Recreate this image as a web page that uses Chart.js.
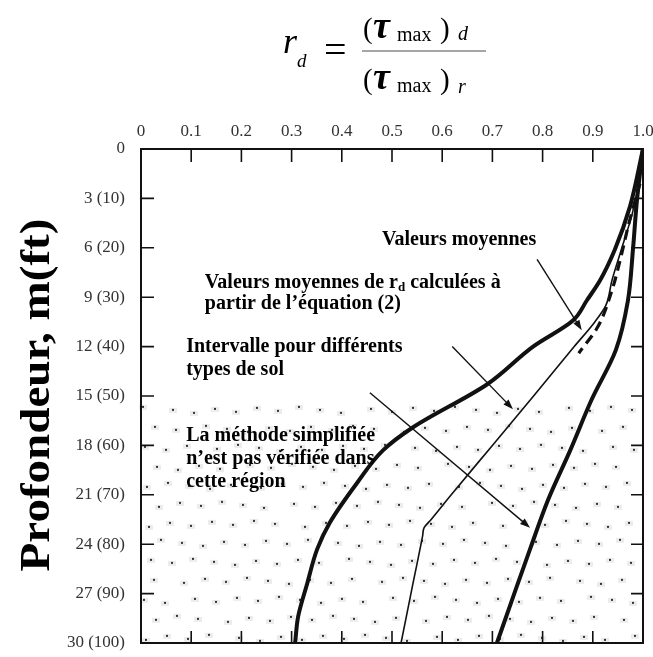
<!DOCTYPE html>
<html>
<head>
<meta charset="UTF-8">
<title>Coefficient rd - profondeur</title>
<script src="https://cdn.jsdelivr.net/npm/chart.js@4.4.1/dist/chart.umd.min.js"></script>
<style>
body{margin:0;background:#fff;}
#wrap{width:653px;height:657px;}
</style>
</head>
<body>
<div id="wrap"><canvas id="myChart" width="653" height="657"></canvas></div>
<script>
// tick labels
var xTickLabels = ['0','0.1','0.2','0.3','0.4','0.5','0.6','0.7','0.8','0.9','1.0'];
var yTickLabels = ['0','3 (10)','6 (20)','9 (30)','12 (40)','15 (50)','18 (60)','21 (70)','24 (80)','27 (90)','30 (100)'];

// borne gauche (intervalle)
var leftDepth = [0, 3.5, 6.1, 8.0, 9.2, 10.4, 12.0, 14.3, 16.9, 18.3, 20.3, 22.7, 24.3, 26.4, 28.4, 30];
var leftRd    = [1.0, 0.974, 0.944, 0.914, 0.888, 0.861, 0.781, 0.689, 0.542, 0.482, 0.430, 0.376, 0.351, 0.331, 0.313, 0.307];
// valeurs moyennes
var meanDepth = [0, 2, 4, 6, 8, 9.5, 10.5, 12, 15, 18, 21, 22.5, 23, 23.5, 26.5, 30];
var meanRd    = [1.0, 0.992, 0.978, 0.958, 0.938, 0.926, 0.904, 0.863, 0.782, 0.700, 0.618, 0.578, 0.564, 0.561, 0.541, 0.518];
// valeurs moyennes equation (2)
var eqDepth = [2.1, 4.5, 6.3, 8.6, 10.8, 12.4];
var eqRd    = [0.994, 0.972, 0.958, 0.938, 0.910, 0.872];
// borne droite (intervalle)
var rightDepth = [0, 3.1, 6.1, 9.2, 12.2, 15.2, 18.3, 21.3, 24.3, 27.4, 30];
var rightRd    = [1.0, 0.988, 0.980, 0.970, 0.946, 0.898, 0.855, 0.811, 0.775, 0.739, 0.709];

// annotations (rd, profondeur)
var arrows = [
	[0.789, 6.7, 0.878, 11.0],
	[0.620, 12.0, 0.741, 15.8],
	[0.456, 14.8, 0.775, 23.0]
];
var notes = [
	{x: 0.480, y: 5.5, t: 'Valeurs moyennes'},
	{x: 0.127, y: 8.1, t: 'Valeurs moyennes de r', sub: 'd', after: ' calculées à'},
	{x: 0.127, y: 9.4, t: 'partir de l\u2019équation (2)'},
	{x: 0.090, y: 12.0, t: 'Intervalle pour différents'},
	{x: 0.090, y: 13.4, t: 'types de sol'},
	{x: 0.090, y: 17.4, t: 'La méthode simplifiée'},
	{x: 0.090, y: 18.8, t: 'n\u2019est pas vérifiée dans'},
	{x: 0.090, y: 20.2, t: 'cette région'}
];
var zoneTop = 15.6; // debut de la zone pointillee

function pts(xs, ys) {
	return xs.map(function(v, i) { return {x: v, y: ys[i]}; });
}

var SERIF = '"Liberation Serif", "DejaVu Serif", serif';

var figure = {
	id: 'figure',
	beforeDatasetsDraw: function(chart) {
		var c = chart.ctx, a = chart.chartArea, ys = chart.scales.y;
		var top = ys.getPixelForValue(zoneTop);
		c.save();
		var row = 0;
		for (var y = top + 4; y < a.bottom - 2; y += 19, row++) {
			var col = 0;
			for (var x = a.left + 6 + (row % 2) * 11; x < a.right - 3; x += 22, col++) {
				var jx = ((row * 37 + col * 53) % 9) - 4;
				var jy = ((row * 29 + col * 17) % 7) - 3;
				c.fillStyle = '#ececec';
				c.fillRect(x + jx - 4, y + jy - 2, 8, 5);
				c.fillStyle = '#333';
				c.fillRect(x + jx - 1, y + jy - 1, 2, 2);
			}
		}
		c.restore();
	},
	afterDatasetsDraw: function(chart) {
		var c = chart.ctx, a = chart.chartArea, xs = chart.scales.x, ys = chart.scales.y;
		c.save();
		// cadre
		c.strokeStyle = '#111';
		c.lineWidth = 2;
		c.strokeRect(a.left, a.top, a.right - a.left, a.bottom - a.top);
		// graduations vers l'interieur
		c.lineWidth = 1.6;
		c.beginPath();
		for (var i = 1; i < xTickLabels.length - 1; i++) {
			var px = xs.getPixelForValue(i / 10);
			c.moveTo(px, a.top); c.lineTo(px, a.top + 13);
			c.moveTo(px, a.bottom); c.lineTo(px, a.bottom - 12);
		}
		for (var j = 1; j < yTickLabels.length - 1; j++) {
			var py = ys.getPixelForValue(j * 3);
			c.moveTo(a.left, py); c.lineTo(a.left + 13, py);
			c.moveTo(a.right, py); c.lineTo(a.right - 12, py);
		}
		c.stroke();

		// fleches
		c.strokeStyle = '#111';
		c.fillStyle = '#111';
		c.lineWidth = 1.4;
		arrows.forEach(function(ar) {
			var x0 = xs.getPixelForValue(ar[0]), y0 = ys.getPixelForValue(ar[1]);
			var x1 = xs.getPixelForValue(ar[2]), y1 = ys.getPixelForValue(ar[3]);
			var ang = Math.atan2(y1 - y0, x1 - x0);
			c.beginPath(); c.moveTo(x0, y0); c.lineTo(x1 - 6 * Math.cos(ang), y1 - 6 * Math.sin(ang)); c.stroke();
			c.beginPath();
			c.moveTo(x1, y1);
			c.lineTo(x1 - 10 * Math.cos(ang) + 3.5 * Math.sin(ang), y1 - 10 * Math.sin(ang) - 3.5 * Math.cos(ang));
			c.lineTo(x1 - 10 * Math.cos(ang) - 3.5 * Math.sin(ang), y1 - 10 * Math.sin(ang) + 3.5 * Math.cos(ang));
			c.closePath(); c.fill();
		});

		// textes
		c.fillStyle = '#000';
		c.textBaseline = 'middle';
		c.textAlign = 'left';
		notes.forEach(function(n) {
			var px = xs.getPixelForValue(n.x), py = ys.getPixelForValue(n.y);
			c.font = 'bold 20px ' + SERIF;
			c.fillText(n.t, px, py);
			if (n.sub) {
				var w = c.measureText(n.t).width;
				c.font = 'bold 13px ' + SERIF;
				c.fillText(n.sub, px + w, py + 5);
				var w2 = c.measureText(n.sub).width;
				c.font = 'bold 20px ' + SERIF;
				c.fillText(n.after, px + w + w2, py);
			}
		});

		// titre axe y
		c.save();
		c.translate(38, 395);
		c.rotate(-Math.PI / 2);
		c.scale(1.12, 1);
		c.textAlign = 'center';
		c.font = 'bold 42px ' + SERIF;
		c.fillText('Profondeur, m(ft)', 0, 0);
		c.restore();

		// formule
		c.textBaseline = 'alphabetic';
		c.font = 'italic 36px ' + SERIF;
		c.fillText('r', 283, 53);
		c.font = 'italic 19px ' + SERIF;
		c.fillText('d', 297, 67);
		c.font = '40px ' + SERIF;
		c.fillText('=', 324, 63);
		c.strokeStyle = '#888';
		c.lineWidth = 1.3;
		c.beginPath(); c.moveTo(362, 51); c.lineTo(486, 51); c.stroke();
		[[38, 'd', 40], [89, 'r', 93]].forEach(function(r) {
			var b = r[0];
			c.font = '29px ' + SERIF;
			c.fillText('(', 363, b);
			c.font = 'italic bold 38px ' + SERIF;
			c.fillText('\u03c4', 373, b);
			c.font = '20px ' + SERIF;
			c.fillText('max', 397, b + 3);
			c.font = '29px ' + SERIF;
			c.fillText(')', 440, b);
			c.font = 'italic 20px ' + SERIF;
			c.fillText(r[1], 458, r[2]);
		});
		c.restore();
	}
};

var ctx = document.getElementById('myChart').getContext('2d');
var chart = new Chart(ctx, {
	type: 'line',
	data: {
		datasets: [
			{label: 'Intervalle (gauche)', data: pts(leftRd, leftDepth), borderColor: '#111', borderWidth: 4, cubicInterpolationMode: 'monotone'},
			{label: 'Valeurs moyennes', data: pts(meanRd, meanDepth), borderColor: '#111', borderWidth: 1.6, cubicInterpolationMode: 'monotone'},
			{label: 'Equation (2)', data: pts(eqRd, eqDepth), borderColor: '#111', borderWidth: 3.2, borderDash: [10, 6], cubicInterpolationMode: 'monotone'},
			{label: 'Intervalle (droite)', data: pts(rightRd, rightDepth), borderColor: '#111', borderWidth: 4, cubicInterpolationMode: 'monotone'}
		]
	},
	options: {
		responsive: false,
		animation: false,
		indexAxis: 'y',
		layout: {padding: {left: 0, top: 0, right: 10, bottom: 14}},
		elements: {point: {radius: 0}},
		plugins: {legend: {display: false}, tooltip: {enabled: false}},
		scales: {
			x: {
				type: 'linear', position: 'top', min: 0, max: 1,
				afterFit: function(s) { s.height = 149; s.paddingLeft = 0; s.paddingRight = 0; s.paddingTop = 0; s.paddingBottom = 0; },
				grid: {display: false, drawTicks: false},
				border: {display: false},
				ticks: {
					stepSize: 0.1, padding: 7, color: '#333',
					font: {family: SERIF, size: 17},
					callback: function(v) { return xTickLabels[Math.round(v * 10)]; }
				}
			},
			y: {
				type: 'linear', reverse: true, min: 0, max: 30,
				afterFit: function(s) { s.width = 141; s.paddingLeft = 0; s.paddingRight = 0; s.paddingTop = 0; s.paddingBottom = 0; },
				grid: {display: false, drawTicks: false},
				border: {display: false},
				ticks: {
					stepSize: 3, padding: 16, color: '#333',
					font: {family: SERIF, size: 17},
					callback: function(v) { return yTickLabels[Math.round(v / 3)]; }
				}
			}
		}
	},
	plugins: [figure]
});
</script>
</body>
</html>
